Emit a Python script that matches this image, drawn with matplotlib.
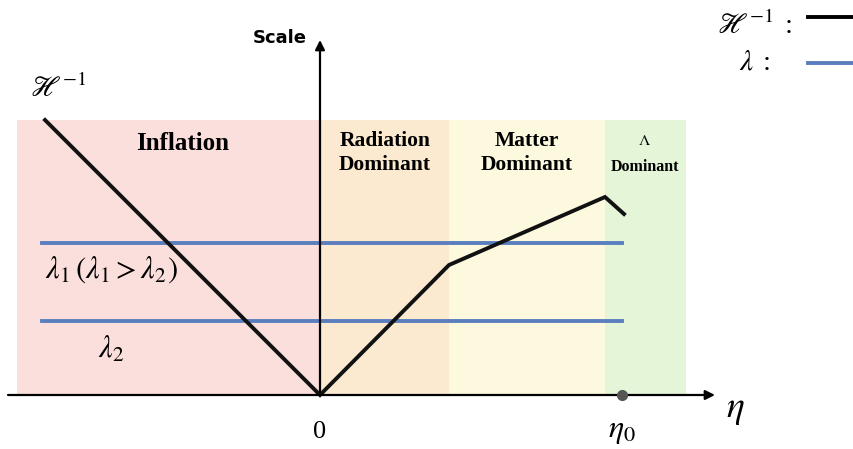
import matplotlib
matplotlib.use("Agg")
import matplotlib.pyplot as plt

plt.rcParams['mathtext.fontset'] = 'stix'
plt.rcParams['font.family'] = ['Liberation Serif', 'DejaVu Serif']

# era bands (conformal time, arbitrary units), name, colour
era_starts = [-3.03, 0.0, 1.29, 2.85]
era_ends = [0.0, 1.29, 2.85, 3.66]
era_colors = ['#fbdfdc', '#fbead0', '#fcf9df', '#e5f5d8']
band_top = 2.75

# horizon H^-1 polyline
hor_eta = [-2.75, 0.0, 1.29, 2.85, 3.04]
hor_scale = [2.75, 0.0, 1.30, 1.98, 1.81]

# wavelengths
lam_vals = [1.52, 0.74]
lam_start, lam_end = -2.78, 3.02
eta0 = 3.02

fig = plt.figure(figsize=(8.54, 4.49), dpi=100)
ax = fig.add_axes([0, 0, 1, 1])
ax.set_xlim(-3.20, 5.34)
ax.set_ylim(-0.54, 3.95)
ax.axis('off')

for a, b, c in zip(era_starts, era_ends, era_colors):
    ax.fill_between([a, b], 0, band_top, color=c, lw=0, zorder=0)

for v in lam_vals:
    ax.plot([lam_start, lam_end], [v, v], color='#5b7fbe', lw=2.8, zorder=2)

ax.plot(hor_eta, hor_scale, color='#111111', lw=2.8, zorder=3,
        solid_joinstyle='miter')

# axes arrows
ax.annotate('', xy=(3.95, 0), xytext=(-3.12, 0),
            arrowprops=dict(arrowstyle='-|>', color='black', lw=1.6,
                            mutation_scale=14, shrinkA=0, shrinkB=0))
ax.annotate('', xy=(0, 3.55), xytext=(0, 0),
            arrowprops=dict(arrowstyle='-|>', color='black', lw=1.6,
                            mutation_scale=14, shrinkA=0, shrinkB=0))
ax.plot([eta0], [0], 'o', color='#555555', ms=7, zorder=5)

ax.text(-0.40, 3.57, 'Scale', family='DejaVu Sans', weight='bold',
        fontsize=13, ha='center', va='center')
ax.text(0, -0.37, '0', fontsize=19, ha='center', va='center')
ax.text(eta0, -0.37, r'$\eta_0$', fontsize=23, ha='center', va='center')
ax.text(4.15, -0.15, r'$\eta$', fontsize=27, ha='center', va='center')

ax.text(-1.37, 2.51, 'Inflation', weight='bold', fontsize=18,
        ha='center', va='center')
ax.text(0.65, 2.42, 'Radiation\nDominant', weight='bold', fontsize=15.5,
        ha='center', va='center', linespacing=1.25)
ax.text(2.07, 2.42, 'Matter\nDominant', weight='bold', fontsize=15.5,
        ha='center', va='center', linespacing=1.25)
ax.text(3.25, 2.41, '$\\Lambda$\nDominant', weight='bold', fontsize=11.5,
        ha='center', va='center', linespacing=1.9)

ax.text(-2.62, 3.07, r'$\mathscr{H}^{-1}$', fontsize=21,
        ha='center', va='center')
ax.text(-2.09, 1.25, r'$\lambda_1\,(\lambda_1 > \lambda_2)$', fontsize=22,
        ha='center', va='center')
ax.text(-2.09, 0.45, r'$\lambda_2$', fontsize=22, ha='center', va='center')

# legend
ax.text(4.72, 3.70, r'$\mathscr{H}^{-1}\;:$', fontsize=21,
        ha='right', va='center')
ax.plot([4.88, 5.34], [3.78, 3.78], color='black', lw=2.8)
ax.text(4.50, 3.32, r'$\lambda\;:$', fontsize=21, ha='right', va='center')
ax.plot([4.88, 5.34], [3.32, 3.32], color='#5b7fbe', lw=2.8)

fig.savefig('out.png', dpi=100)
